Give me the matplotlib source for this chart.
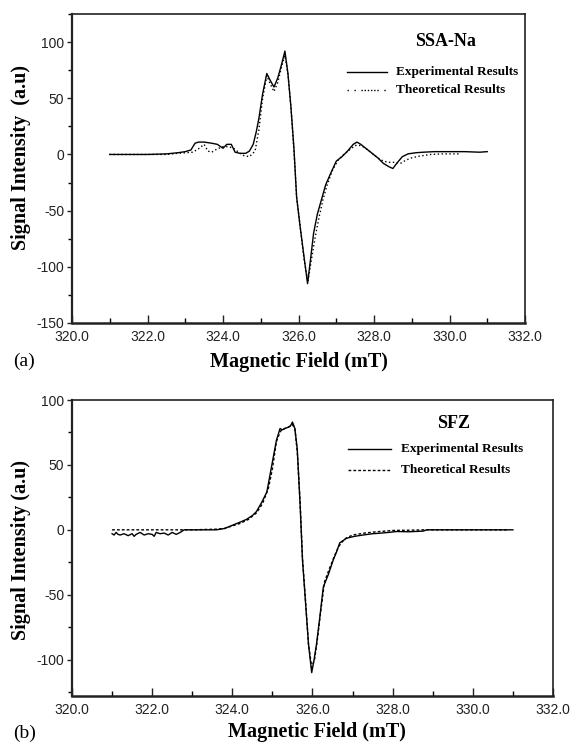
import matplotlib
matplotlib.use("Agg")
import matplotlib.pyplot as plt
from matplotlib.lines import Line2D
from matplotlib.ticker import MultipleLocator, FixedLocator, FixedFormatter

# ---------------- data: panel (a) SSA-Na ----------------
xa_exp = [321.0, 321.5, 322.0, 322.5, 322.8, 323.0, 323.15, 323.26, 323.35, 323.5,
          323.7, 323.85, 324.0, 324.1, 324.22, 324.32, 324.45, 324.6, 324.7, 324.8,
          324.88, 324.95, 325.05, 325.16, 325.25, 325.35, 325.45, 325.55,
          325.64, 325.72, 325.8, 325.88, 325.95, 326.05, 326.15, 326.24, 326.32, 326.4,
          326.5, 326.61, 326.72, 326.85, 327.0, 327.15, 327.3, 327.45, 327.55, 327.65,
          327.8, 327.95, 328.1, 328.25, 328.4, 328.5, 328.6, 328.75, 328.9, 329.1,
          329.3, 329.6, 330.0, 330.4, 330.8, 331.0]
ya_exp = [0, 0, 0, 0.5, 1.5, 2.5, 4, 10, 11, 11,
          10, 9, 5.5, 9, 9, 2, 1, 1, 3, 9,
          20, 32, 54, 72, 66, 60, 68, 80,
          92, 72, 42, 5, -38, -66, -92, -115, -93, -70,
          -53, -40, -27, -17, -6, -2, 3, 9, 11, 9,
          5, 1, -3, -8, -11, -12.5, -8, -2, 0.5, 1.5,
          2, 2.5, 2.5, 2.5, 2, 2.5]
xa_th = [321.0, 321.5, 322.0, 322.5, 322.8, 323.0, 323.2, 323.35, 323.5, 323.6,
         323.7, 323.85, 324.0, 324.15, 324.3, 324.45, 324.55, 324.7, 324.85, 324.95,
         325.05, 325.16, 325.25, 325.35, 325.45, 325.55, 325.64, 325.72, 325.8, 325.88,
         325.95, 326.05, 326.15, 326.25, 326.35, 326.45, 326.55, 326.65, 326.75, 326.9,
         327.05, 327.2, 327.35, 327.5, 327.65, 327.8, 327.95, 328.1, 328.25, 328.4,
         328.55, 328.7, 328.85, 329.0, 329.2, 329.5, 329.8, 330.1, 330.3]
ya_th = [0, 0, 0, 0, 1, 1.5, 2, 5, 9, 3,
         2, 5, 7, 7, 5, 1, -1, -2, 3, 22,
         50, 70, 63, 56, 64, 78, 88, 72, 42, 3,
         -38, -66, -94, -113, -92, -72, -55, -40, -28, -14,
         -5, 0, 4, 8, 8, 5, 1, -3, -6, -7,
         -7, -8, -5, -3, -1.5, 0, 0.5, 0.5, 0.5]

# ---------------- data: panel (b) SFZ ----------------
xb_exp = [321.0, 321.05, 321.1, 321.15, 321.2, 321.3, 321.4, 321.5, 321.55, 321.6,
          321.7, 321.8, 321.9, 322.0, 322.05, 322.1, 322.2, 322.3, 322.4, 322.5,
          322.6, 322.7, 322.8, 323.2, 323.6, 323.8, 324.0, 324.2, 324.35, 324.5,
          324.6, 324.73, 324.86, 324.98, 325.1, 325.19, 325.25, 325.31, 325.39, 325.45,
          325.5, 325.56, 325.62, 325.69, 325.75, 325.81, 325.9, 325.98, 326.04, 326.1,
          326.18, 326.27, 326.4, 326.52, 326.6, 326.68, 326.85, 327.05, 327.26, 327.5,
          327.68, 327.9, 328.1, 328.4, 328.76, 328.85, 329.5, 330.2, 331.0]
yb_exp = [-3, -4, -2, -3.5, -4, -3, -4.5, -3, -5, -3.5,
          -2, -4, -3, -3.5, -5, -2, -3, -2.5, -4, -2,
          -3.5, -2, 0, 0, 0, 1, 3.5, 6, 8, 11,
          14, 21, 29, 49, 69, 78, 77, 78, 79, 80,
          83, 78, 62, 20, -23, -49, -88, -110, -100, -88,
          -68, -44, -34, -23, -17, -10, -6.5, -5, -4, -3,
          -2.6, -2, -1.3, -1.5, -1, 0, 0, 0, 0]
xb_th = [321.0, 322.0, 323.0, 323.6, 323.8, 324.0, 324.2, 324.4, 324.6, 324.75,
         324.9, 325.0, 325.1, 325.2, 325.3, 325.4, 325.5, 325.56, 325.62, 325.69,
         325.75, 325.82, 325.9, 325.98, 326.05, 326.12, 326.2, 326.3, 326.42, 326.55,
         326.65, 326.8, 327.0, 327.3, 327.6, 328.0, 328.4, 328.8, 329.5, 330.2, 330.9]
yb_th = [0, 0, 0, 0.5, 1, 3, 5, 8, 13, 20,
         32, 47, 68, 76, 78, 79, 81, 78, 60, 22,
         -22, -52, -88, -106, -100, -85, -64, -40, -30, -20,
         -13, -7, -4, -2.5, -1.5, -0.5, -0.3, 0, 0, 0, 0]

xticks = [320.0, 322.0, 324.0, 326.0, 328.0, 330.0, 332.0]
xticklabels = ["320.0", "322.0", "324.0", "326.0", "328.0", "330.0", "332.0"]
ya_ticks = [100, 50, 0, -50, -100, -150]
ya_ticklabels = ["100", "50", "0", "-50", "-100", "-150"]
yb_ticks = [100, 50, 0, -50, -100]
yb_ticklabels = ["100", "50", "0", "-50", "-100"]

W, H = 574, 743
fig = plt.figure(figsize=(W / 100, H / 100), dpi=100)

SANS = "Liberation Sans"
SERIF = "Liberation Serif"


def ax_rect(l, t, r, b):
    return [l / W, 1 - b / H, (r - l) / W, (b - t) / H]


def fx(px):
    return px / W


def fy(py):
    return 1 - py / H


def style_axes(ax, ylim, yticks, yticklabels):
    ax.set_xlim(320, 332)
    ax.set_ylim(*ylim)
    ax.xaxis.set_major_locator(FixedLocator(xticks))
    ax.xaxis.set_major_formatter(FixedFormatter(xticklabels))
    ax.xaxis.set_minor_locator(MultipleLocator(1))
    ax.yaxis.set_major_locator(FixedLocator(yticks))
    ax.yaxis.set_major_formatter(FixedFormatter(yticklabels))
    ax.yaxis.set_minor_locator(MultipleLocator(25))
    ax.tick_params(axis="x", which="major", direction="in", length=6, width=1.0,
                   pad=5, labelsize=10, colors="#222222")
    ax.tick_params(axis="x", which="minor", direction="in", length=3.5, width=1.0)
    ax.tick_params(axis="y", which="major", direction="out", length=3.5, width=1.0,
                   pad=2, labelsize=10, colors="#222222")
    ax.tick_params(axis="y", which="minor", direction="out", length=3, width=1.0)
    for lab in ax.get_xticklabels() + ax.get_yticklabels():
        lab.set_fontfamily(SANS)
    ax.spines["left"].set_linewidth(1.6)
    ax.spines["bottom"].set_linewidth(1.8)
    ax.spines["top"].set_linewidth(1.2)
    ax.spines["right"].set_linewidth(1.2)
    for s in ax.spines.values():
        s.set_color("#222222")


# ---------------- panel (a) ----------------
ax1 = fig.add_axes(ax_rect(72, 14, 525, 323))
ax1.plot(xa_exp, ya_exp, color="black", lw=1.0, solid_joinstyle="round")
ax1.plot(xa_th, ya_th, color="black", lw=1.0, linestyle=(0, (1, 1.8)))
style_axes(ax1, (-150, 125), ya_ticks, ya_ticklabels)

fig.text(fx(445), fy(41), "SSA-Na", family=SERIF, weight="bold", fontsize=13,
         ha="center", va="center")
fig.add_artist(Line2D([fx(347), fx(387)], [fy(72), fy(72)], color="black", lw=1.0))
fig.add_artist(Line2D([fx(347), fx(387)], [fy(90), fy(90)], color="black", lw=1.0,
                      linestyle=(0, (1, 4, 1, 4, 1, 1.3, 1, 1.3, 1, 1.3, 1, 1.3, 1, 1.3))))
fig.text(fx(396), fy(72), "Experimental Results", family=SERIF, weight="bold",
         fontsize=9.5, ha="left", va="center")
fig.text(fx(396), fy(90), "Theoretical Results", family=SERIF, weight="bold",
         fontsize=9.5, ha="left", va="center")

fig.text(fx(21), fy(158), "Signal Intensity  (a.u)", family=SERIF, weight="bold",
         fontsize=14.5, rotation=90, ha="center", va="center")
fig.text(fx(299), fy(362), "Magnetic Field (mT)", family=SERIF, weight="bold",
         fontsize=14.5, ha="center", va="center")
fig.text(fx(13), fy(361), "(a)", family=SERIF, fontsize=14, ha="left", va="center")

# ---------------- panel (b) ----------------
ax2 = fig.add_axes(ax_rect(72, 400, 553, 696))
ax2.plot(xb_exp, yb_exp, color="black", lw=1.0, solid_joinstyle="round")
ax2.plot(xb_th, yb_th, color="black", lw=1.0, linestyle=(0, (2, 1.5)))
style_axes(ax2, (-128, 100), yb_ticks, yb_ticklabels)

fig.text(fx(454), fy(423), "SFZ", family=SERIF, weight="bold", fontsize=13,
         ha="center", va="center")
fig.add_artist(Line2D([fx(348), fx(391)], [fy(449), fy(449)], color="black", lw=1.0))
fig.add_artist(Line2D([fx(348), fx(391)], [fy(470), fy(470)], color="black", lw=1.0,
                      linestyle=(0, (2, 1.5))))
fig.text(fx(401), fy(449), "Experimental Results", family=SERIF, weight="bold",
         fontsize=9.5, ha="left", va="center")
fig.text(fx(401), fy(470), "Theoretical Results", family=SERIF, weight="bold",
         fontsize=9.5, ha="left", va="center")

fig.text(fx(21), fy(550), "Signal Intensity (a.u)", family=SERIF, weight="bold",
         fontsize=14.5, rotation=90, ha="center", va="center")
fig.text(fx(317), fy(732), "Magnetic Field (mT)", family=SERIF, weight="bold",
         fontsize=14.5, ha="center", va="center")
fig.text(fx(13), fy(733), "(b)", family=SERIF, fontsize=14, ha="left", va="center")

fig.savefig("out.png", dpi=100)
